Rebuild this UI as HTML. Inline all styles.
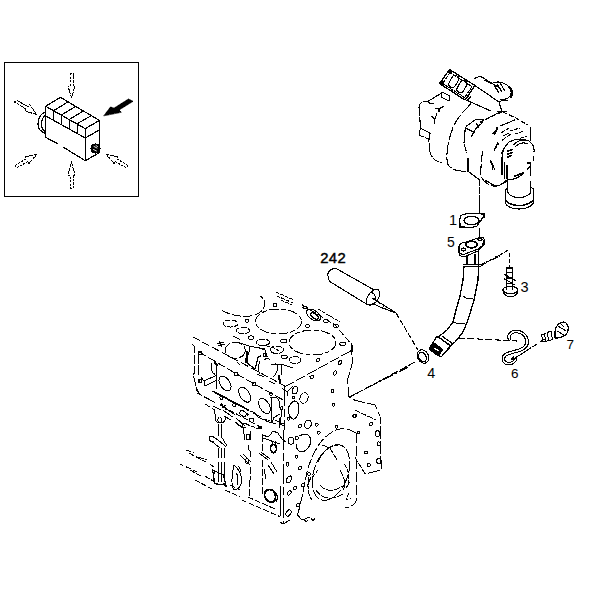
<!DOCTYPE html>
<html><head><meta charset="utf-8">
<style>
html,body{margin:0;padding:0;background:#fff;}
body{width:600px;height:600px;overflow:hidden;position:relative;font-family:"Liberation Sans",sans-serif;}
svg{position:absolute;left:0;top:0;}
.t{font-family:"Liberation Sans",sans-serif;font-size:15px;fill:#000;}
</style></head><body>
<svg shape-rendering="crispEdges" width="600" height="600" viewBox="0 0 600 600">
<g fill="none" stroke="#000" stroke-width="1.2" stroke-linejoin="round" stroke-linecap="round">
<!-- inset box -->
<rect x="4.5" y="62.5" width="134" height="134" stroke-width="1.6"/>
<!-- cube -->
<path d="M45.7 106.3 L60.4 97.3 L99.3 120.4 L85.3 128.7 Z"/>
<path d="M45.7 106.3 V137.3 L58 144 M63 147 L85.3 160.7 V128.7 M85.3 160.7 L99.3 152.7 V120.4"/>
<path d="M45.7 116 L85.3 138 L99.3 130"/>
<path d="M53.7 110.7 L67.7 102 M61.5 115 L75.5 106.5 M69.5 119.3 L83.5 111 M77.5 123.5 L91.5 115.5"/>
<path d="M53.7 110.7 V120.5 M61.5 115 V124.8 M69.5 119.3 V129 M77.5 123.5 V133.3"/>
<path d="M45.7 111.5 C40 114 38 119 38 124 C38 129 41 132 45.7 133.5 M45.7 114.5 C42.5 117 41.5 121 41.5 125 C41.5 128 43 130.5 45.7 131.5"/>
<circle cx="95.5" cy="148.5" r="4.6" fill="#000" stroke-width="1"/>
<path d="M94 146.5 L97 148 M93.5 149.5 L96.5 151 M96 145.5 L97.5 146.5" stroke="#fff" stroke-width="0.9"/>
<!-- black arrow -->
<path d="M104 115.5 L110.5 107 L114 108.2 L128.5 99 L133 101.3 L119 110 L121 112 Z" fill="#000" stroke-width="0.8"/>
<!-- hollow arrows -->
<path d="M70 74 L73.5 73.5 L73 86 L75 86 L71.5 98 L68 86 L70 86 Z" stroke-width="1" stroke-dasharray="2 1.5"/>
<path d="M70 188 L73.5 188 L73 175 L75 175 L71.5 162 L68 175 L70 175 Z" stroke-width="1" stroke-dasharray="2 1.5"/>
<path d="M14.5 102 L17 100.5 L28 106.5 L29.5 104.5 L36.5 114.5 L25 111 L26 109 Z" stroke-width="1" stroke-dasharray="2 1.5"/>
<path d="M15 165.5 L16.5 168 L28 161.5 L29 163.5 L37 154 L25 157 L26 159 Z" stroke-width="1" stroke-dasharray="2 1.5"/>
<path d="M128 165.5 L126.5 168 L115 161.5 L114 163.5 L106 154 L118 157 L117 159 Z" stroke-width="1" stroke-dasharray="2 1.5"/>
</g>
<g fill="none" stroke="#000" stroke-linejoin="round" stroke-linecap="round">
<!-- turbo -->
<g stroke-width="1.1">
<path d="M449.5 69.5 L439.5 83.5 L465 100 L475 85.5 Z" stroke-width="1.3"/><path d="M450 72.5 L442.5 83.5 L464.5 97.5 L472 86.5 Z" stroke-dasharray="3 1.5"/><path d="M440 83.5 L442.5 81 L443 85.5 Z M449.5 69.5 L451 73 L447.5 72.5 Z" fill="#000" stroke-width="1.6"/>
<rect x="447.2" y="78" width="13" height="7" rx="3.5" transform="rotate(-60 453.7 81.5)"/>
<rect x="455.5" y="83" width="13" height="7" rx="3.5" transform="rotate(-60 462 86.5)"/>
<path d="M442 92 L450 96 L449 101 L441 97 Z M474.5 78.5 L480 76 L498 87 M466 100 L491 111 M475 85.5 L499 102"/><path d="M465 100 L469 95 M467 101 L471 96" stroke-width="1.3"/>
<path d="M493 83 C500 80 510 84 511 92 C512 97 506 100 500 100"/>
<path d="M509 87 C512 89 513 94 511 97" stroke-width="2.2"/>
<path d="M494 85 L499 93 M497 84 L502 92 M500.5 83.5 L504.5 90.5 M484 80 L492 84" stroke-width="1.2"/><path d="M499 102 L503 100 L508 101" />
<path d="M499 102 L502 111.7 M497 111.7 H507"/>
<path d="M442.7 92.3 L427.5 101.7 C422 100 418 104 419.3 110 L420.5 128.5 L419.3 132 L420 135.5 L428.7 139 L430 152 C432 160 438 162 441.3 162.7" stroke-dasharray="14 2 6 2"/>
<path d="M428 102 L431 104 L434 103 M435 108 L439 109 L444 106 M439 109 V112 M431 116 L435 119 L437 113 M435 119 L434 124 M420 128 L430 133 L429.5 139 M420 128 L421 123"/>
<path d="M470.7 104 L463 112 L456.7 120.3 C452 128 449.7 136.7 448 145 C446.2 155 447 163 448 164.7 C452 170 458 171.3 466.7 171.3" stroke-dasharray="12 3"/>
<path d="M468 158 V171.3 L478.7 179.3"/>
<path d="M482.7 151.3 C481 160 480.7 170 481 176 C483 182 490 186 497 187" stroke-dasharray="10 3"/>
<path d="M480 122.2 L489.3 117.5 L502.2 111.7 L515 117.5 L527.8 125" stroke-dasharray="4 2.5"/>
<path d="M530.5 128 V140 M530.5 163 V175 M530.8 181 V192"/>
<path d="M501 125.7 L515 119.8 M492 134 L497.5 129"/>
<path d="M466.7 126 L476 119.3 L484 120 L481.3 123.3 L474.7 130 L470.7 138 M465.3 127.3 L464 143.3 L466.7 152.7 M466.7 128.7 L474.7 132.7 M476 123 L478.5 127" stroke-dasharray="7 1.5"/><path d="M491 116.5 L499 112.5 M493 134 L497 127.5 M494.5 150 L498.5 143.5 M490.5 160.5 L493 170 M501 133 L509 128 M502.5 140 L510 134.5" stroke-dasharray="4 2"/>
<path d="M509 142 C515 139 523 138 529 141 C533 144 534.5 148 534 152 M533.5 157 V160 M523 174 C518 178 512 180 508 179 M502 158 V175 M504.5 163 V178 M507 165 V179 M502 158 C502 152 504 147 509 142" />
<path d="M515 147 C519 143 524 142 528 144 M514 144.5 C518 140.5 523 139.5 527 140.5 M491 161 L495 170 M494 150 L498 142 M501 154 L505 147 M503 136 L509 133 M497 131 L494.5 134 M485 180 L495 186 L500 185 L507 180 M527 163 L531 163 M527 170 L531 165" />
<path d="M508 151 L512 149.5 M508 154 L512 152.5 M508 157 L511.5 155.5 M515 176 L523 173" stroke-width="1.6"/>
<path d="M507.9 179 V192 M505.4 190 V203.5 M533.3 189 V203.5 M505.4 190 L507.9 187 M530.8 187 L533.3 189 M507.9 192.5 C510 196 515 197.5 519 197.5 C523 197.5 528 196 530.8 192.5 M505.4 203.5 C508 207.5 514 209 519 209 C524 209 530 207.5 533.3 203.5"/><path d="M505.4 200 C508 204 514 205.5 519 205.5 C524 205.5 530 204 533.3 200" stroke-width="1.6" stroke-dasharray="5 1.5"/><path d="M499 185.4 L508 181"/>
<path d="M510 131 L520 128 M515 134 L524 131 M521 138 L527 136" stroke-dasharray="3 2"/>
<path d="M479.3 179.3 V214" stroke-dasharray="6 2"/>
</g>
</g>


<!-- engine -->
<g fill="none" stroke="#000" stroke-linejoin="round" stroke-linecap="round" stroke-width="1">
<!-- bores -->
<ellipse cx="278.5" cy="321.5" rx="23" ry="12.5" stroke-dasharray="9 3 4 3"/>
<ellipse cx="312.5" cy="342.5" rx="23.5" ry="12.5" stroke-dasharray="9 3 4 3"/>
<path d="M222.7 310.7 C230 315 240 317 250 316 C258 315 264 311 265 304 C265 300 262 297 260 296" stroke-dasharray="8 3"/>
<path d="M232.7 336 L239.3 339.3" />
<!-- deck holes -->
<ellipse cx="243" cy="330.5" rx="6.5" ry="3.2" stroke-dasharray="5 2"/>
<ellipse cx="262.8" cy="342.3" rx="6.7" ry="3.3" stroke-dasharray="5 2"/>
<ellipse cx="276.8" cy="349.8" rx="6.7" ry="3.7" stroke-dasharray="6 2"/>
<ellipse cx="295" cy="360" rx="6" ry="3.5" stroke-dasharray="5 2"/>
<ellipse cx="230.5" cy="323.5" rx="7.5" ry="3.5" stroke-dasharray="5 2"/>
<ellipse cx="251" cy="337.7" rx="3" ry="1.8"/>

<ellipse cx="275" cy="305" rx="2" ry="1.5"/><ellipse cx="247" cy="320.7" rx="2" ry="1.5"/>
<ellipse cx="305" cy="307.5" rx="2" ry="1.5"/>
<ellipse cx="283.8" cy="341" rx="3.2" ry="2"/>
<ellipse cx="284.3" cy="356.8" rx="3.2" ry="1.8"/>
<ellipse cx="265" cy="355" rx="2" ry="1.5"/>
<ellipse cx="307.5" cy="326" rx="2" ry="1.5"/>
<ellipse cx="326" cy="321" rx="2.5" ry="1.5"/>
<ellipse cx="336" cy="326" rx="2.5" ry="1.5"/>

<ellipse cx="318" cy="360" rx="1.5" ry="1.5"/>
<ellipse cx="313.5" cy="315" rx="8" ry="4.5" transform="rotate(35 313.5 315)"/>
<ellipse cx="314.5" cy="316" rx="4.5" ry="2.3" transform="rotate(35 314.5 316)" stroke-width="1.5"/>
<path d="M318 309 L330 316 L340 322" stroke-dasharray="3 2"/>
<path d="M276 292 L294 300 M277 296 L293 303 M281 300 L292 305" stroke-dasharray="3 2"/>
<!-- block outline -->
<path d="M193 337 L285 386" stroke-dasharray="7 4"/>
<path d="M284.5 387 L351.5 350.5" stroke-dasharray="10 3"/><circle cx="351.5" cy="351" r="1" fill="#000"/>
<path d="M302.5 305 L335 325 L352 345 L352 351" stroke-dasharray="6 3"/>
<path d="M351 342.5 L352.5 362.5 L347.5 380 L348.75 396.25 C352 400 357 401 362 402 L375 405 L380 416.25 L381.25 470 L365 474" stroke-dasharray="12 3"/>
<path d="M355 457.5 L365 473.75 M355 410 L367.5 416 L376 420" stroke-dasharray="5 2"/>
<path d="M192.6 344.6 L194.3 346.5 V373.2 L193.2 374.3 L196.7 389.5 L200 394 M198.4 354.5 V374.3" stroke-dasharray="9 2"/><path d="M196.5 389 L197.5 391" stroke-width="2"/>
<path d="M199 352 L235 373 L256 385 L285 401" stroke-dasharray="8 3"/>
<path d="M284.5 386 V430 M283.5 430 V524" stroke-dasharray="20 3 8 3"/>
<!-- front ports -->
<ellipse cx="225" cy="383.5" rx="4.8" ry="8.3" transform="rotate(-33 225 383.5)"/>
<ellipse cx="244.7" cy="394.7" rx="4.8" ry="8.3" transform="rotate(-33 244.7 394.7)"/>
<ellipse cx="264.5" cy="406" rx="4.8" ry="8.3" transform="rotate(-30 264.5 406)"/>
<path d="M270 397.5 L276.7 397.5 C279 399 280 403 280 407.5 L281.7 412 L280 425 M271.7 397.5 V423 M280 414 L274 417.5 L271.7 423 M279 418 V427.5"/><circle cx="281.7" cy="408" r="1.3"/><circle cx="283" cy="424.5" r="1.2"/><circle cx="271" cy="394" r="1.2"/>
<ellipse cx="235.3" cy="350.3" rx="10" ry="8" stroke-dasharray="10 3"/>
<path d="M211.5 364 C210.5 368 211 372 214.8 374.3 M216.5 363.8 V388.3 M201.3 377.8 L204 381 L204.8 386 M204 381 L216 375.5 M204.8 386 L216 380.5"/><path d="M215 363 L217 365" stroke-width="2"/><path d="M217 344 L224 342 M218 346 L225 344 M219 341 L222 347" stroke-width="1"/><ellipse cx="200.75" cy="380.75" rx="1.3" ry="1.5"/>
<ellipse cx="200" cy="353" rx="1.5" ry="1.8"/>
<ellipse cx="200" cy="381" rx="1.5" ry="1.8"/>
<ellipse cx="236" cy="374" rx="1.6" ry="1.8"/>
<ellipse cx="254" cy="384" rx="1.6" ry="1.8"/>
<path d="M213.3 391.4 L248.3 410" stroke-width="1.7" stroke-dasharray="1.6 1"/>
<path d="M250 411 C254 412 256 414 258 417 C261 419 264 419 266 421 L276 424" stroke-dasharray="3 1.2"/>
<ellipse cx="221.5" cy="397.8" rx="1.6" ry="1.6"/><ellipse cx="234.3" cy="404.8" rx="1.5" ry="2"/>
<ellipse cx="243" cy="413.5" rx="3.5" ry="2.5" transform="rotate(30 243 413.5)"/><circle cx="247.2" cy="414.2" r="1" fill="#000"/>
<path d="M206.3 397.8 L214.5 402.5 M213.3 406 L220.3 409.5 M220.3 404.8 L234.3 414.2 M223.8 410.7 L232 416.5 M225 416.5 L230.8 420 M236.7 418.8 L244.8 425.8 M235 422 L243 428 M253 413 L260 416.5"/>
<path d="M221.5 404 L226 409.5 M222 407.5 L225.5 405.5" />
<rect x="249.8" y="418" width="4" height="4" rx="1"/>
<path d="M197 393 L212 401 M222 406 L262 428 M228 400 L236 404 M205 404 L215 410" stroke-dasharray="5 3"/>
<!-- port shapes on deck front -->
<path d="M237 342 L249 346 L265 349 M249 346 V352 M259 348 L265 350 V356 H268"/>
<path d="M249 352 C247 356 246 360 247 363 L255 369 C257 364 257 360 258 357 L261 356" stroke-width="1.3"/>
<path d="M247 352 L246.5 362" stroke-width="2.4"/>
<path d="M260 361 C258 366 258 372 260 374 M275 363 C279 366 279 371 273 377 M264 360 C266 358 269 358 270 360" />
<path d="M279 376 L280 383" stroke-width="2.2"/>
<path d="M271 364 L281 364 L293 368 M281 364 V375 M282 388 L287 392 L293 386 M287 392 V396"/>
<path d="M237 362 L240 365 M269 381 L275 384 M257 374 L264 377" />
<path d="M262 346 C268 345 276 348 280 352" stroke-dasharray="3 2"/>
<!-- right face holes -->
<ellipse cx="295" cy="390.2" rx="2.6" ry="3.8" transform="rotate(20 295 390.2)"/>
<ellipse cx="304" cy="398" rx="4" ry="5.3" transform="rotate(20 304 398)"/>
<path d="M295 400.8 C291 402 288.3 406 288.3 410 C288.5 414 290 418 293.5 419.2 C297 418 298.5 414 299 409 C299.3 405 298 402 295 400.8 Z"/>
<ellipse cx="293.3" cy="397.3" rx="1.3" ry="1.3"/>
<ellipse cx="288.7" cy="418.7" rx="1.3" ry="1.5"/>
<ellipse cx="300" cy="426" rx="1.5" ry="1.5"/>
<ellipse cx="308" cy="424.3" rx="3.3" ry="4.3" transform="rotate(20 308 424.3)"/>
<ellipse cx="316.7" cy="424.7" rx="1.5" ry="1.5"/>
<ellipse cx="318.7" cy="432.7" rx="1.5" ry="1.5"/>
<ellipse cx="312" cy="376.8" rx="2.2" ry="1.5" transform="rotate(-30 312 376.8)"/>
<ellipse cx="333.3" cy="404.7" rx="1.3" ry="1.5"/>
<ellipse cx="354" cy="416" rx="1.3" ry="1.5"/>
<ellipse cx="336.7" cy="426.7" rx="1.3" ry="1.5"/>
<ellipse cx="296.7" cy="438" rx="1.5" ry="1.5"/>
<ellipse cx="291" cy="440.7" rx="3" ry="3.5"/>
<ellipse cx="296.7" cy="456.7" rx="1.3" ry="1.5"/>
<path d="M299 436 C305 433 310 434 310.7 440 C311 446 307 451 302 452 C298 452 296 448 296 444"/>
<ellipse cx="342.7" cy="343.8" rx="3" ry="1.6"/>
<ellipse cx="340" cy="362.5" rx="1.4" ry="2.3" transform="rotate(30 340 362.5)"/>
<ellipse cx="335" cy="373" rx="1.4" ry="2.3" transform="rotate(30 335 373)"/>
<ellipse cx="332.5" cy="391" rx="1.5" ry="1.5"/>
<ellipse cx="355" cy="416" rx="1.5" ry="1.5"/>
<ellipse cx="371" cy="424" rx="1.5" ry="1.5"/>
<ellipse cx="377.5" cy="433.75" rx="2" ry="3"/>
<ellipse cx="378.75" cy="443.75" rx="1.5" ry="2"/>
<ellipse cx="378.75" cy="461" rx="2" ry="3"/>
<ellipse cx="366" cy="452.5" rx="1.5" ry="1.5"/>
<ellipse cx="368.75" cy="465" rx="1.5" ry="1.5"/>
<ellipse cx="358.75" cy="432.5" rx="1.2" ry="1.5"/>


<ellipse cx="295" cy="488" rx="1.5" ry="1.5"/>

<ellipse cx="300" cy="468" rx="1.5" ry="1.5"/>
<ellipse cx="303" cy="485" rx="1.5" ry="1.5"/>
<ellipse cx="309" cy="474" rx="1.2" ry="1.5"/>
<ellipse cx="298" cy="505" rx="1.5" ry="1.5"/>
<!-- flywheel housing -->
<path d="M297.5 515 C302 500 305 480 307.5 470 C312 455 318 445 322.5 440 C330 432 337 428.75 342.5 428.75 L349 429.3 L355 432.5" stroke-dasharray="9 3"/>
<path d="M356.7 433 V500 C355 505 350 508 345 507" stroke-dasharray="10 3"/>
<path d="M297.5 515 L302 520 L310 517 M304 519 C305 522 307 522 308 520 M311 518 C312 521 314 521 315 518" />
<ellipse cx="331" cy="472.5" rx="17" ry="29" transform="rotate(20 331 472.5)" stroke-dasharray="10 3"/>
<path d="M318 462 C322 452 330 445 338 445 M322 445 L330 448 L337 460 M320 485 C325 492 335 492 342 486 M316 490 C322 500 334 500 343 494 M340 470 C345 478 346 485 343 490" stroke-dasharray="6 2"/>
<path d="M309 477 C307 485 308 495 312 500 M312 478 L318 470" stroke-dasharray="5 2"/>
<path d="M344 464 C349 470 350 478 348 485 M346 488 L350 482 M349 493 L346 500 L351 498" stroke-dasharray="4 2"/>
<path d="M307 487 L311 477 L308 485"/>
</g>


<!-- lower left -->
<g fill="none" stroke="#000" stroke-linejoin="round" stroke-linecap="round" stroke-width="1">
<path d="M218.5 424 V436 M221.5 424 V436" />
<path d="M218 448 V458 M221 448 V458 M224 448 V458" />
<path d="M218 462 V482 M221 462 V482 M224 462 V482" />
<path d="M214.5 409.5 L215.5 419 C216 424 224 424 225 420 L225 415.5 M218.5 417.5 C217 420 218 423 220.5 422.5 C222.5 422 222.5 418 220.5 417.5"/>
<path d="M208.7 437 L212 436 L218 440 L226 446.7 M210 440 L215 444 L220 448 M209 437 C209 440 211 442 214 442 M221 436 L224 441 L227 446"/>
<path d="M186 450 L194 452.7 M189.3 453.3 L206 462 M198.7 457.3 L206.7 460 M180 464 L183.3 466 M186 466.7 L196.7 472 M190 470 L200.7 476 M210 464 L215.3 468 M195 480 L212 489 M205 476 L213 481" stroke-dasharray="5 2.5"/>

<path d="M236.7 418.7 C240 421 243 424 243 428 L245 440 M250 431 V440 M249 445 L248 449 L251 452 L250 457" />
<ellipse cx="248" cy="437" rx="2" ry="3"/>
<path d="M240 455 L250 465 M243 454 L251 462" /><ellipse cx="247" cy="461" rx="2" ry="2.2"/>
<path d="M234 465.3 C238 468 241 474 242 480 C241 486 238 490 234 490 C231 486 231.5 475 234 465.3 M236 473 C238 475 239 480 237 485"/>
<path d="M212.5 470 L223.5 475 L226 485 L215 483.8 Z M214 472 L213.5 481" stroke-width="1.2"/><path d="M224 484 L226 486" stroke-width="2"/>
<path d="M225 490 L240 496.7 M241.7 500 L280 516.7 M248 497 L275 509 M230 485 L240 490" stroke-dasharray="5 3"/>
<path d="M250 467 V480 M249.2 480 V498 M262.5 435 V453 M262.5 460 V467 M262 469 V495" stroke-dasharray="7 2"/><path d="M259 453 L268 460 M261 452 L270 459 M263 438 L280 444 M271 462 L277 472 M268 465 L274 474 M264 469 L266 479" /><path d="M262.5 435 L268.5 437 L273 431 L278 433 L282 439 L287 443" stroke-dasharray="4 1.5"/>
<path d="M265 492 C263 498 268 503 273 502 C277 500 276 492 272 490 C269 489 266 490 265 492 Z" stroke-width="1.8"/>
<path d="M275 492 C278 494 278 499 276 502" stroke-width="1.2"/>
<path d="M271 446 C270 449 271 452 273.5 453 C276 452 277 449 276 446 C275 444 272 444 271 446 Z" stroke-width="1.6"/><path d="M272 444 L272 442 M275 444 L275.5 442" />
<path d="M280.5 486 V516 M280 522 L283 524 L290 520" />
<path d="M238 425 L246 428 M251 426 L259 429" stroke-dasharray="4 2"/>
<path d="M263 419 L270 421 M275 420 L283 424" stroke-dasharray="4 2"/>
<ellipse cx="260.5" cy="427.5" rx="1.5" ry="1.5"/>
<path d="M243 424 C246 423 248 424 250 426" /><path d="M238 466 C240 468 241 471 241 472" />
<ellipse cx="287.5" cy="464.2" rx="1.5" ry="2"/>
<ellipse cx="289" cy="479.5" rx="2.2" ry="3.8" transform="rotate(30 289 479.5)"/>
<ellipse cx="289.2" cy="493" rx="1.5" ry="2.5" transform="rotate(40 289.2 493)"/>
<ellipse cx="288.5" cy="513" rx="2.2" ry="3.5" transform="rotate(30 288.5 513)"/>


</g>

<!-- parts -->
<g fill="none" stroke="#000" stroke-linejoin="round" stroke-linecap="round" stroke-width="1.1">
<!-- gasket 1 -->
<path d="M462 215 C466 213 472 213 484 213.5 L484 216 L477 226 C474 227.5 466 227.5 460 227 L459.5 223 C459.5 219 460 216 462 215 Z" stroke-width="1.2"/>
<ellipse cx="471.5" cy="220.5" rx="7.5" ry="4.3"/>
<path d="M480.5 213.5 H484 V217 M460 224 V227 H464" stroke-width="2"/>
<path d="M479.5 200 V213 M479.5 228 V238" stroke-width="1"/>
<!-- flange 5 -->
<path d="M459 249 C458 245 462 242 466 242 L478 238 C482 236 485 238 484 241 L482 246 L478 249 L465 254 C461 255 458.5 253 459 249 Z"/>
<ellipse cx="471.5" cy="244.5" rx="5.5" ry="3.3" stroke-width="1.8"/>
<ellipse cx="463.5" cy="249.5" rx="2" ry="1.5"/>
<ellipse cx="480" cy="239.5" rx="2" ry="1.2"/>
<path d="M459 249 V253 C459 256 462 257 466 256 L478 251 L484 245 V241"/>
<!-- pipe -->
<path d="M467 256 V265 M478.6 250 V266 M475 254 V264" stroke-width="1.1"/>
<path d="M464 266 L463 280 L460 296 L456 310 L453 322 L447 330 L437 338" stroke-width="1.3"/>
<path d="M478.6 266 L478 280 L474 300 L468 320 L463 332 L455 342 L447 349" stroke-width="1.3"/>
<path d="M464 264.5 H479 M464 266.5 H479" stroke-width="1.2"/>
<path d="M463 296 C466 299 470 299 473 298 M453 322 C457 324 461 324 465 323"/>
<path d="M437 336 L451 346 L441 357 L429 349 Z" stroke-width="1.2"/>
<path d="M439.5 338 L448.5 344.5 M442 336 L453 344" stroke-width="1.2"/>
<path d="M429 349 L434 343 L443 349.5 L438 356 Z" fill="#000" stroke-width="1"/>
<path d="M434 348 L438 350.5" stroke="#fff" stroke-width="1.2"/>
<path d="M480 265 L500 256" stroke-dasharray="5 2"/>
<!-- bolt 3 -->
<path d="M499 255.5 L509 249.5 M509.5 253 V267" stroke-dasharray="4 2" stroke-width="1"/>
<path d="M480 266.5 L492 259 M495 257 L499 255.5" stroke-dasharray="6 3" stroke-width="1"/>
<path d="M506.5 268 H512.5 V289 M506.5 268 V289 M506.5 272.5 H512.5 M506.5 278 H512.5 M506.5 283.5 H512.5" stroke-width="1.2"/>
<path d="M504 274 L516 281 M504.5 279 L515 285"/>
<ellipse cx="510.3" cy="290" rx="7.5" ry="3.6" stroke-width="1.2"/>
<path d="M503 291 L504.5 294.5 L508 296.5 H513 L516.5 294.5 L518 291"/>
<!-- clip 6 -->
<path d="M509.5 339 C508 336 510 332 515 331.5 C521 331 526 335 527 340 C528 345 525 348 520 350 L508 353.5 C503 355 502 360 505 362.5 C509 365 514 363 515.5 359.5" stroke-width="3.6"/>
<path d="M509.5 339 C508 336 510 332 515 331.5 C521 331 526 335 527 340 C528 345 525 348 520 350 L508 353.5 C503 355 502 360 505 362.5 C509 365 514 363 515.5 359.5" stroke="#fff" stroke-width="1.5"/>
<path d="M511 359 L514 356 L513 360 Z" fill="#000"/>
<path d="M459 338 L517 341" stroke-dasharray="6 3"/>
<path d="M515 358 L537 344 M540 342 L546 338" stroke-dasharray="5 2"/>
<!-- bolt 7 -->
<path d="M541.5 335 L551 331 L552.5 339.5 L543 342 Z M544.5 333.5 L545.5 341 M547.5 332.5 L548.5 340.5" stroke-width="1" stroke-dasharray="2 1"/>
<path d="M555 338 L555 331 C556 326 559 322 563 322 C567 322 569 326 568 331 C567 335 563 337 558 338 Z" stroke-width="1.2"/>
<path d="M558 326 L566 331 M557 331 L564 335 M560 323 L564 327" stroke-width="1"/>
<!-- ring 4 -->
<ellipse cx="423" cy="356.5" rx="5.5" ry="7" transform="rotate(-30 423 356.5)"/>
<ellipse cx="422.5" cy="357" rx="3.5" ry="5" transform="rotate(-30 422.5 357)"/>
<path d="M396 313 L418 350" stroke-dasharray="5 3"/>
<path d="M415 362 L350 397" stroke-dasharray="7 3"/>
<path d="M407.5 367.5 L351 396" stroke-dasharray="9 3 2 3"/>
<!-- tube 242 -->
<path d="M337.5 269.2 L374.2 290 M330 281.7 L366.7 304.2"/>
<path d="M337.5 269.2 C333 267 327 271 328 276 C328.5 279 329 281 330 281.7"/>
<path d="M374.2 290 C378 287 381 292 379 297 C377 303 371 307 367 304 C365 301 368 293 374.2 290 Z"/>
<path d="M370 293 C373 292 376 295 375 299"/>
<path d="M372.5 298.3 L377 301 L396.7 313.3 L380 307 L372 303" />
<path d="M378 301 L380 304 M383 304 L384 307"/>
</g>
<g fill="#000" font-family="Liberation Sans, sans-serif" stroke="none">
<text x="449" y="225" font-size="14.5">1</text>
<text x="447" y="247" font-size="14">5</text>
<text x="520.5" y="291.5" font-size="14.5">3</text>
<text x="427.3" y="377.6" font-size="14.3">4</text>
<text x="511" y="378.3" font-size="13.5">6</text>
<text x="566.5" y="349" font-size="13.5">7</text>
<text x="320.2" y="263" font-size="14.8" letter-spacing="0.4" stroke="#000" stroke-width="0.45">242</text>
</g>
</svg>
</body></html>
